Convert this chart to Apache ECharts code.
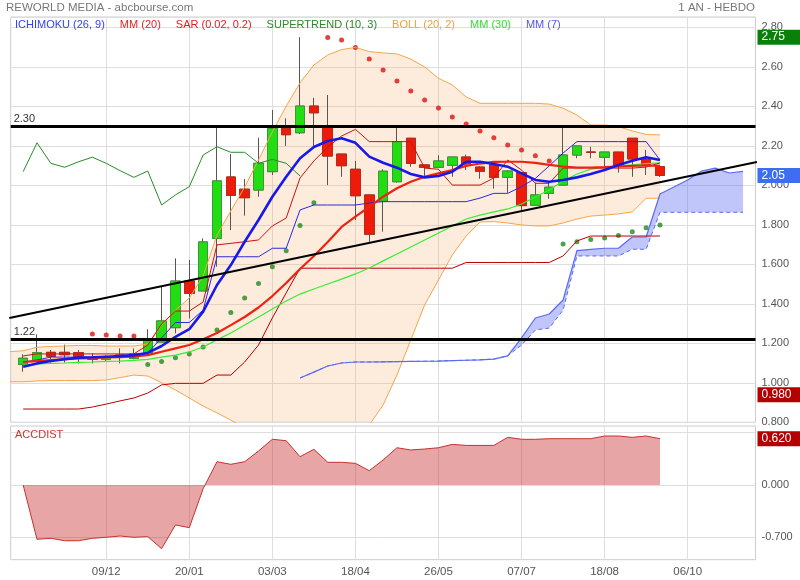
<!DOCTYPE html>
<html><head><meta charset="utf-8">
<script src="https://cdn.jsdelivr.net/npm/echarts@6/dist/echarts.min.js"></script>
<style>html,body{margin:0;padding:0;background:#fff}#c{width:800px;height:580px}</style>
</head><body><div id="c"></div>
<script>
// ---- weekly candles (index 0..46) ----
const opens  = [1.093,1.115,1.154,1.154,1.152,1.127,1.119,1.140,1.123,1.152,1.206,1.279,1.515,1.465,1.731,2.042,1.980,1.976,2.069,2.288,2.266,2.401,2.297,2.158,2.081,1.951,1.920,2.018,2.238,2.103,2.091,2.101,2.143,2.092,2.103,2.040,2.064,1.899,1.959,2.001,2.153,2.168,2.142,2.168,2.238,2.131,2.094];
const closes = [1.124,1.152,1.134,1.142,1.130,1.119,1.132,1.136,1.146,1.220,1.313,1.515,1.453,1.713,2.022,1.949,1.937,2.111,2.288,2.256,2.401,2.367,2.148,2.099,1.947,1.752,2.071,2.221,2.111,2.091,2.123,2.143,2.108,2.071,2.040,2.072,1.897,1.951,1.990,2.153,2.199,2.167,2.168,2.099,2.133,2.103,2.050];
const lows   = [1.056,1.110,1.102,1.102,1.098,1.098,1.107,1.098,1.118,1.140,1.206,1.250,1.326,1.465,1.588,1.773,1.846,1.942,2.052,2.199,2.260,2.192,2.001,2.043,1.824,1.714,1.765,2.013,2.094,2.043,2.091,2.043,2.077,2.033,1.983,1.962,1.875,1.895,1.932,2.001,2.137,2.137,2.094,2.064,2.043,2.052,2.042];
const highs  = [1.144,1.245,1.166,1.193,1.166,1.149,1.140,1.174,1.174,1.271,1.486,1.630,1.622,1.731,2.297,2.158,2.032,2.241,2.381,2.339,2.750,2.443,2.457,2.158,2.123,1.951,2.081,2.297,2.238,2.103,2.152,2.143,2.155,2.097,2.108,2.077,2.067,2.013,2.022,2.297,2.199,2.195,2.168,2.168,2.239,2.179,2.097];

// ---- moving averages (index 0..46) ----
const mm7  = [1.081,1.098,1.110,1.119,1.127,1.129,1.132,1.135,1.140,1.151,1.186,1.232,1.271,1.360,1.495,1.596,1.714,1.824,1.942,2.043,2.137,2.194,2.224,2.238,2.215,2.145,2.114,2.089,2.057,2.040,2.047,2.069,2.119,2.119,2.108,2.094,2.060,2.027,2.018,2.027,2.040,2.057,2.077,2.103,2.124,2.142,2.128];
const mm20 = [1.105,1.110,1.115,1.120,1.123,1.125,1.128,1.130,1.133,1.140,1.157,1.174,1.191,1.220,1.252,1.292,1.333,1.381,1.439,1.505,1.576,1.642,1.713,1.789,1.841,1.891,1.942,1.985,2.018,2.043,2.060,2.077,2.098,2.110,2.118,2.119,2.119,2.113,2.103,2.095,2.090,2.090,2.092,2.095,2.098,2.100,2.098];
const mm30 = [1.090,1.095,1.098,1.100,1.103,1.105,1.108,1.110,1.113,1.118,1.130,1.140,1.156,1.181,1.217,1.252,1.292,1.333,1.373,1.414,1.449,1.475,1.500,1.525,1.551,1.581,1.617,1.652,1.687,1.723,1.758,1.794,1.829,1.849,1.865,1.880,1.905,1.941,1.976,2.022,2.057,2.082,2.092,2.098,2.103,2.110,2.113];

// ---- Bollinger (index -1..46) ----
const bollUp  = [1.157,1.162,1.180,1.184,1.186,1.189,1.189,1.186,1.186,1.186,1.196,1.292,1.368,1.429,1.541,1.748,1.870,1.991,2.128,2.270,2.401,2.518,2.609,2.660,2.687,2.698,2.677,2.670,2.665,2.639,2.599,2.542,2.508,2.447,2.415,2.415,2.415,2.415,2.415,2.411,2.390,2.356,2.305,2.305,2.297,2.275,2.257,2.255];
const bollLow = [1.005,1.005,1.009,1.011,1.011,1.011,1.011,1.014,1.026,1.039,1.034,1.000,0.963,0.923,0.882,0.847,0.811,0.771,0.730,0.690,0.660,0.639,0.634,0.649,0.680,0.720,0.786,0.887,1.039,1.217,1.394,1.520,1.647,1.743,1.814,1.816,1.809,1.799,1.794,1.794,1.809,1.829,1.844,1.849,1.855,1.865,1.934,1.934];

// ---- Ichimoku ----
const tenkan = [1.136,1.146,1.146,1.146,1.146,1.146,1.146,1.146,1.146,1.191,1.298,1.363,1.363,1.409,1.698,1.706,1.714,1.723,1.794,1.834,2.037,2.123,2.194,2.249,2.283,2.221,2.221,2.221,2.221,2.087,2.081,2.001,2.001,2.001,2.037,2.128,2.077,2.010,2.010,2.087,2.087,2.087,2.087,2.087,2.087,2.092,2.113];
const kijun  = [1.105,1.115,1.130,1.130,1.130,1.130,1.130,1.130,1.130,1.151,1.227,1.305,1.305,1.368,1.638,1.638,1.638,1.638,1.681,1.681,1.875,1.900,1.900,1.900,1.900,1.910,1.917,1.917,1.917,1.917,1.917,1.917,1.917,1.935,1.959,1.959,1.993,2.035,2.098,2.163,2.221,2.221,2.221,2.221,2.221,2.221,2.128];
const chikou = [2.069,2.215,2.111,2.091,2.119,2.142,2.111,2.074,2.040,2.072,1.900,1.951,1.993,2.153,2.195,2.167,2.167,2.111,2.131,2.111,2.047]; // index 0..20
const spanA  = [1.024,1.054,1.085,1.100,1.105,1.105,1.106,1.107,1.108,1.109,1.110,1.112,1.114,1.116,1.120,1.136,1.227,1.328,1.348,1.419,1.669,1.675,1.681,1.681,1.738,1.738,1.956,1.991,2.027,2.072,2.087,2.062,2.070]; // index 20..52
const spanB  = [1.024,1.054,1.085,1.100,1.105,1.105,1.106,1.107,1.108,1.109,1.110,1.112,1.114,1.116,1.120,1.136,1.191,1.267,1.277,1.368,1.642,1.642,1.642,1.642,1.676,1.676,1.863,1.863,1.863,1.863,1.863,1.863,1.863];
const lowerRed = [0.867,0.867,0.867,0.867,0.867,0.877,0.892,0.908,0.923,0.948,0.989,0.997,0.997,0.997,1.039,1.039,1.105,1.191,1.328,1.455,1.580,1.580,1.580,1.580,1.580,1.580,1.580,1.580,1.580,1.580,1.580,1.580,1.609,1.609,1.609,1.609,1.609,1.609,1.609,1.642,1.718,1.743,1.743,1.743,1.743,1.743,1.743];

// ---- dots ----
const sarX = [5,6,7,8,22,23,24,25,26,27,28,29,30,31,32,33,34,35,36,37,38];
const sarY = [1.247,1.242,1.237,1.237,2.748,2.736,2.697,2.639,2.584,2.528,2.477,2.432,2.391,2.346,2.310,2.275,2.241,2.204,2.179,2.150,2.123];
const stX = [9,10,11,12,13,14,15,16,17,18,19,20,21,39,40,41,42,43,44,45,46];
const stY = [1.093,1.107,1.127,1.146,1.181,1.267,1.356,1.429,1.502,1.588,1.669,1.796,1.912,1.703,1.714,1.725,1.733,1.746,1.765,1.785,1.799];

// ---- drawn lines ----
const levels = [2.30, 1.22];
const trendX = [-1, 53];
const trendY = [1.328, 2.118];

// ---- ACCDIST (index 0..46) ----
const acc = [0,-0.727,-0.714,-0.746,-0.746,-0.714,-0.700,-0.683,-0.700,-0.691,-0.852,-0.535,-0.571,-0.05,0.312,0.277,0.312,0.455,0.612,0.593,0.379,0.478,0.304,0.304,0.290,0.192,0.335,0.499,0.469,0.482,0.499,0.544,0.530,0.530,0.530,0.638,0.612,0.612,0.620,0.620,0.620,0.620,0.656,0.656,0.638,0.656,0.620];

// ---- axis ----
const gridIdx = [6,12,18,24,30,36,42,48];
const dateLabels = ['09/12','20/01','03/03','18/04','26/05','07/07','18/08','06/10'];
const accTicks = [0.7,0,-0.7];
const accLabels = [0,-0.7];
const lowMarker = 0.98;

const range = (a, n) => Array.from({length: n}, (_, k) => a + k);
const pair = (xs, ys) => ys.map((v, k) => [xs[k], v]);
const iC = range(0, 47), iB = range(-1, 48), iK = range(0, 21), iS = range(20, 33);

const FONT = 'Liberation Sans, Arial, sans-serif';
const lastClose = closes[closes.length - 1];
const maxHigh = Math.max(...highs);
const lastAcc = acc[acc.length - 1];

function boxLabel(txt, bg) {
  return {show: true, position: 'end', distance: 2, formatter: txt, color: '#fff', backgroundColor: bg,
          padding: [2, 4, 1, 4], width: 35, fontSize: 12, fontFamily: FONT, align: 'left'};
}
const hidden = {color: 'rgba(0,0,0,0)', width: 0, type: 'solid'};
const lineS = (name, xs, ys, color, width, extra) => Object.assign({
  name, type: 'line', data: pair(xs, ys), symbol: 'none', silent: true,
  lineStyle: {color, width}, itemStyle: {color}, xAxisIndex: 0, yAxisIndex: 0
}, extra || {});

function bandSeries(name, xs, up, lo, color) {
  return {
    name, type: 'custom', silent: true, clip: true, xAxisIndex: 0, yAxisIndex: 0,
    data: xs.map((x, k) => [x, up[k], lo[k]]),
    encode: {x: 0, y: [1, 2]},
    renderItem: (params, api) => {
      if (params.dataIndex !== 0) return null;
      const pts = [];
      for (let k = 0; k < xs.length; k++) pts.push(api.coord([xs[k], up[k]]));
      for (let k = xs.length - 1; k >= 0; k--) pts.push(api.coord([xs[k], lo[k]]));
      const cs = params.coordSys;
      return {type: 'polygon', shape: {points: pts}, style: {fill: color, stroke: null},
              clipPath: {type: 'rect', shape: {x: cs.x, y: cs.y, width: cs.width, height: cs.height}}};
    }
  };
}

const option = {
  animation: false,
  backgroundColor: '#fff',
  textStyle: {fontFamily: FONT},
  title: [
    {text: 'REWORLD MEDIA - abcbourse.com', left: 6, top: 2, padding: 0, textStyle: {fontSize: 11.5, color: '#777', fontWeight: 'normal', fontFamily: FONT}},
    {text: '1 AN - HEBDO', right: 45, top: 2, padding: 0, textStyle: {fontSize: 11.5, color: '#777', fontWeight: 'normal', fontFamily: FONT}},
    {text: 'ACCDIST', left: 15, top: 429, padding: 0, textStyle: {fontSize: 11, color: '#cc3333', fontWeight: 'normal', fontFamily: FONT}}
  ],
  legend: {
    left: 10, top: 19, padding: 0, itemGap: 10, itemWidth: 0, itemHeight: 0, icon: 'none', selectedMode: false,
    textStyle: {fontSize: 11, fontFamily: FONT},
    data: [
      {name: 'ICHIMOKU (26, 9)', textStyle: {color: '#3344ee'}},
      {name: 'MM (20)', textStyle: {color: '#ee2222'}},
      {name: 'SAR (0.02, 0.2)', textStyle: {color: '#dd2222'}},
      {name: 'SUPERTREND (10, 3)', textStyle: {color: '#2a8a2a'}},
      {name: 'BOLL (20, 2)', textStyle: {color: '#f0a040'}},
      {name: 'MM (30)', textStyle: {color: '#33e033'}},
      {name: 'MM (7)', textStyle: {color: '#5555ee'}}
    ]
  },
  grid: [
    {left: 10.7, right: 44.5, top: 17, height: 405.25, show: true, borderColor: '#ccc', borderWidth: 1, backgroundColor: 'transparent', outerBoundsMode: 'none'},
    {left: 10.7, right: 44.5, top: 426, height: 133.7, show: true, borderColor: '#ccc', borderWidth: 1, backgroundColor: 'transparent', outerBoundsMode: 'none'}
  ],
  xAxis: [
    {gridIndex: 0, type: 'value', min: -0.9, max: 52.9, axisLine: {show: false},
     axisTick: {show: false, customValues: gridIdx}, axisLabel: {show: false, customValues: gridIdx},
     splitLine: {show: true, lineStyle: {color: '#dedede', width: 1}}},
    {gridIndex: 1, type: 'value', min: -0.9, max: 52.9, axisLine: {show: false},
     axisTick: {show: false, customValues: gridIdx},
     axisLabel: {show: true, customValues: gridIdx, color: '#555', fontSize: 11.5, margin: 6, fontFamily: FONT,
                 formatter: v => dateLabels[gridIdx.indexOf(Math.round(v))] || ''},
     splitLine: {show: true, lineStyle: {color: '#dedede', width: 1}}}
  ],
  yAxis: [
    {gridIndex: 0, type: 'value', position: 'right', min: 0.8, max: 2.852, interval: 0.2,
     axisLine: {show: false}, axisTick: {show: false},
     axisLabel: {color: '#555', fontSize: 11, margin: 6, fontFamily: FONT,
                 formatter: v => (v >= 2.1 ? v.toFixed(2) : v.toFixed(3))},
     splitLine: {show: true, lineStyle: {color: '#dedede', width: 1}}},
    {gridIndex: 1, type: 'value', position: 'right', min: -1.0, max: 0.79,
     axisLine: {show: false}, axisTick: {show: false, customValues: accTicks},
     axisLabel: {customValues: accLabels, color: '#555', fontSize: 11, margin: 6, fontFamily: FONT,
                 formatter: v => v.toFixed(3)},
     splitLine: {show: true, lineStyle: {color: '#dedede', width: 1}}}
  ],
  series: [
    // Bollinger band fill + lines
    bandSeries('bollFill', iB, bollUp, bollLow, 'rgba(247,170,90,0.22)'),
    lineS('bollLow', iB, bollLow, '#f5a54a', 1),
    lineS('BOLL (20, 2)', iB, bollUp, '#f5a54a', 1),
    // Ichimoku cloud
    bandSeries('cloudFill', iS, spanA, spanB, 'rgba(80,95,240,0.36)'),
    lineS('spanB', iS, spanB, '#5a6af5', 1, {lineStyle: {color: '#5a6af5', width: 1, type: [4, 3]}}),
    lineS('spanA', iS, spanA, '#5a6af5', 1.2),
    // candles: wicks
    {name: 'wicks', type: 'candlestick', barWidth: 10, silent: true,
     encode: {x: 0, y: [1, 2, 3, 4]},
     data: iC.map(i => [i, opens[i], closes[i], lows[i], highs[i]]),
     itemStyle: {color: '#22dd11', color0: '#ee1a0a', borderColor: '#5a5550', borderColor0: '#5a5550', borderWidth: 1}},
    // candles: bodies
    {name: 'bodies', type: 'candlestick', barWidth: 10, silent: true,
     encode: {x: 0, y: [1, 2, 3, 4]},
     data: iC.map(i => [i, opens[i], closes[i], Math.min(opens[i], closes[i]), Math.max(opens[i], closes[i])]),
     itemStyle: {color: '#22dd11', color0: '#ee1a0a', borderColor: '#3a9a3a', borderColor0: '#b82a1a', borderWidth: 1}},
    // lines
    lineS('lowerRed', iC, lowerRed, '#bb0000', 1),
    lineS('chikou', iK, chikou, '#2a8a2a', 1),
    lineS('MM (30)', iC, mm30, '#33ee33', 1.2),
    lineS('tenkan', iC, tenkan, '#cc1111', 1),
    lineS('ICHIMOKU (26, 9)', iC, kijun, '#2a2ae0', 1),
    lineS('MM (20)', iC, mm20, '#ee2211', 2.2),
    lineS('MM (7)', iC, mm7, '#1818e8', 2.6),
    // dots
    {name: 'SAR (0.02, 0.2)', type: 'scatter', symbol: 'circle', symbolSize: 5, silent: true,
     data: pair(sarX, sarY), itemStyle: {color: '#dd1111'}},
    {name: 'SUPERTREND (10, 3)', type: 'scatter', symbol: 'circle', symbolSize: 5, silent: true,
     data: pair(stX, stY), itemStyle: {color: '#1f8a1f'}},
    // black drawn lines
    lineS('trend', trendX, trendY, '#000', 2.2, {
      markLine: {
        silent: true, symbol: 'none', animation: false,
        data: [
          {yAxis: levels[0], lineStyle: {color: '#000', width: 3, type: 'solid'},
           label: {show: true, position: 'insideStartTop', formatter: '2.30', color: '#333', fontSize: 11, fontFamily: FONT, distance: [3, 2]}},
          {yAxis: levels[1], lineStyle: {color: '#000', width: 3, type: 'solid'},
           label: {show: true, position: 'insideStartTop', formatter: '1.22', color: '#333', fontSize: 11, fontFamily: FONT, distance: [3, 2]}},
          {yAxis: maxHigh, lineStyle: hidden, label: boxLabel(maxHigh.toFixed(2), '#0a800a')},
          {yAxis: lastClose, lineStyle: hidden, label: boxLabel(lastClose.toFixed(2), '#3d6ef2')},
          {yAxis: lowMarker, lineStyle: hidden, label: Object.assign(boxLabel(lowMarker.toFixed(3), '#b40000'), {offset: [0, 8]})}
        ]
      }
    }),
    // ACCDIST
    {name: 'ACCDIST', type: 'line', xAxisIndex: 1, yAxisIndex: 1, symbol: 'none', silent: true,
     data: pair(iC, acc), lineStyle: {color: '#c83030', width: 1},
     areaStyle: {color: 'rgba(200,40,40,0.6)', origin: 'auto'},
     markLine: {silent: true, symbol: 'none', animation: false,
       data: [{yAxis: lastAcc, lineStyle: hidden, label: boxLabel(lastAcc.toFixed(3), '#b40000')}]}}
  ]
};
const chart = echarts.init(document.getElementById('c'), null, {renderer: 'canvas'});
chart.setOption(option);
</script>
</body></html>
